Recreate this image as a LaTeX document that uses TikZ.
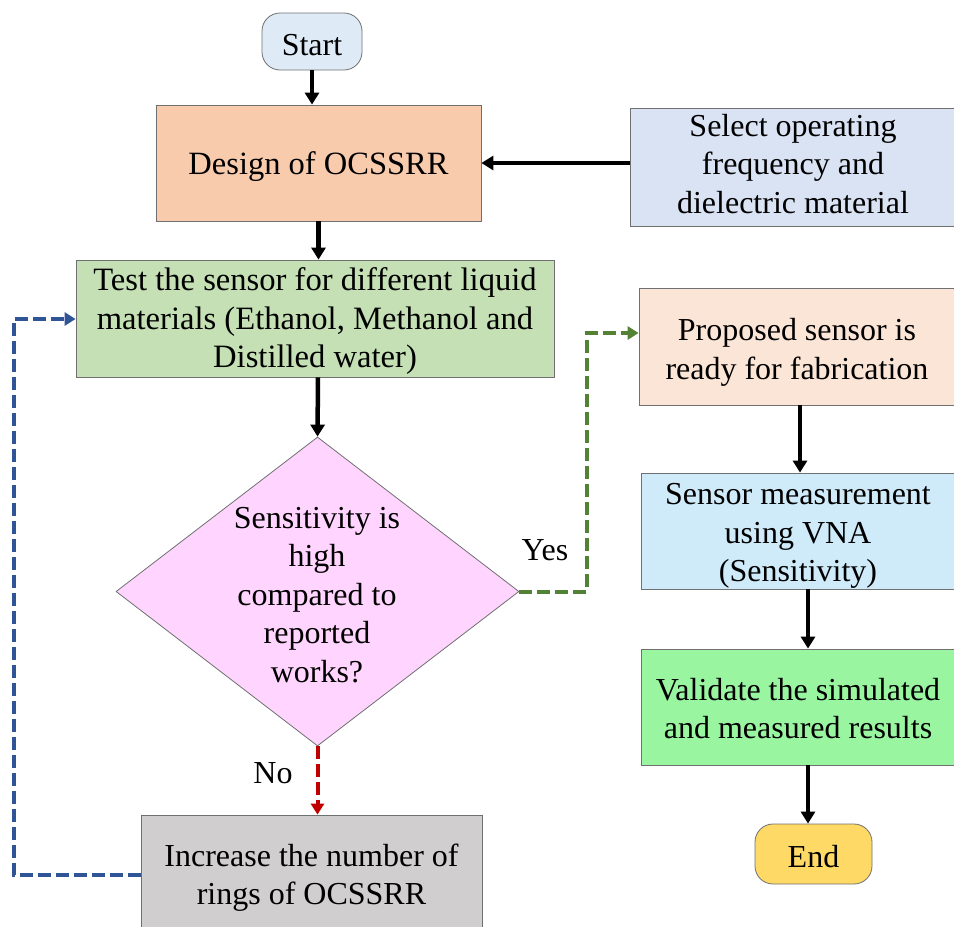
\documentclass[tikz,border=0pt]{standalone}
\usepackage{fontspec}
\setmainfont{Liberation Serif}
\usetikzlibrary{arrows.meta,shapes.geometric,calc}
\definecolor{cStart}{HTML}{DEEBF7}
\definecolor{cDesign}{HTML}{F8CBAD}
\definecolor{cSelect}{HTML}{DAE3F3}
\definecolor{cTest}{HTML}{C5E0B4}
\definecolor{cDia}{HTML}{FFD4FE}
\definecolor{cProp}{HTML}{FBE5D6}
\definecolor{cSens}{HTML}{CFEAF8}
\definecolor{cValid}{HTML}{9AF5A0}
\definecolor{cEnd}{HTML}{FFD966}
\definecolor{cInc}{HTML}{D0CECE}
\definecolor{cBlue}{HTML}{2F5597}
\definecolor{cGreen}{HTML}{548235}
\definecolor{cRed}{HTML}{C00000}
\definecolor{cBorder}{HTML}{707070}
\newcommand\upstrut[1]{\rule{0pt}{#1}}
\newcommand\dnstrut[1]{\rule[-#1]{0pt}{0pt}}
\begin{document}
\begin{tikzpicture}[x=1pt,y=-1pt,
  box/.style={draw=cBorder,line width=0.8pt,inner sep=0pt,align=center,
    font=\fontsize{32}{38.5}\selectfont},
  term/.style={box,rounded corners=18pt},
  arr/.style={line width=4.5pt,-{Triangle[width=14pt,length=12pt]}},
  dsh/.style={line width=4pt,dash pattern=on 13pt off 5pt,-{Triangle[width=13pt,length=11pt]}},
  lbl/.style={font=\fontsize{32}{38.5}\selectfont,inner sep=0pt}]
\useasboundingbox (0,0) rectangle (954,927);
\node[term,fill=cStart,minimum width=100pt,minimum height=57pt] (start) at (312,41.5) {\upstrut{28pt}Start};
\node[box,fill=cDesign,minimum width=325pt,minimum height=116pt,font=\fontsize{32.5}{38.5}\selectfont] (design) at (318.5,163) {\upstrut{31pt}Design of OCSSRR};
\node[box,fill=cSelect,minimum width=326pt,minimum height=118pt] (select) at (793,167.5) {Select operating\\frequency and\\dielectric material\dnstrut{8pt}};
\node[box,fill=cTest,minimum width=478pt,minimum height=117pt,font=\fontsize{32.6}{38.5}\selectfont] (test) at (315,318.5) {\upstrut{28pt}Test the sensor for different liquid\\materials (Ethanol, Methanol and\\Distilled water)};
\node[draw=cBorder,line width=0.8pt,fill=cDia,diamond,minimum width=403pt,minimum height=309pt,inner sep=0pt] (dia) at (317.5,591.5) {};
\node[lbl,align=center] (diatext) at (317,595) {Sensitivity is\\high\\compared to\\reported\\works?};
\node[box,fill=cProp,minimum width=316pt,minimum height=117pt] (prop) at (797,346.5) {\upstrut{34pt}Proposed sensor is\\ready for fabrication};
\node[box,fill=cSens,minimum width=314pt,minimum height=116pt] (sens) at (798,531) {\upstrut{31pt}Sensor measurement\\using VNA\\(Sensitivity)};
\node[box,fill=cValid,minimum width=314pt,minimum height=116pt] (valid) at (798,707) {\upstrut{25pt}Validate the simulated\\and measured results};
\node[term,fill=cEnd,minimum width=117pt,minimum height=60pt] (end) at (813.5,854) {\upstrut{28pt}End};
\node[box,fill=cInc,minimum width=341pt,minimum height=120pt] (inc) at (311.5,875) {\upstrut{28pt}Increase the number of\\rings of OCSSRR};
\node[lbl] (yes) at (545,550) {Yes};
\node[lbl] (no) at (273,773) {No};
\coordinate (gc) at (587,333);
\coordinate (bc) at (14,319);
\draw[arr] (start.south) -- (start.south |- design.north);
\draw[arr] (select.west |- design.east) -- (design.east);
\draw[arr] (design.south) -- (design.south |- test.north);
\draw[arr] ([xshift=3pt]test.south) -- (dia.north);
\draw[dsh,cGreen] (dia.east) -| (gc) -- (gc -| prop.west);
\draw[dsh,cRed] (dia.south) -- (dia.south |- inc.north);
\draw[dsh,cBlue] (inc.west) -| (bc) -- (bc -| test.west);
\draw[arr] ([xshift=3pt]prop.south) -- ([xshift=3pt]prop.south |- sens.north);
\draw[arr] ([xshift=10pt]sens.south) -- ([xshift=10pt]sens.south |- valid.north);
\draw[arr] ([xshift=10pt]valid.south) -- ([xshift=10pt]valid.south |- end.north);
\end{tikzpicture}
\end{document}
